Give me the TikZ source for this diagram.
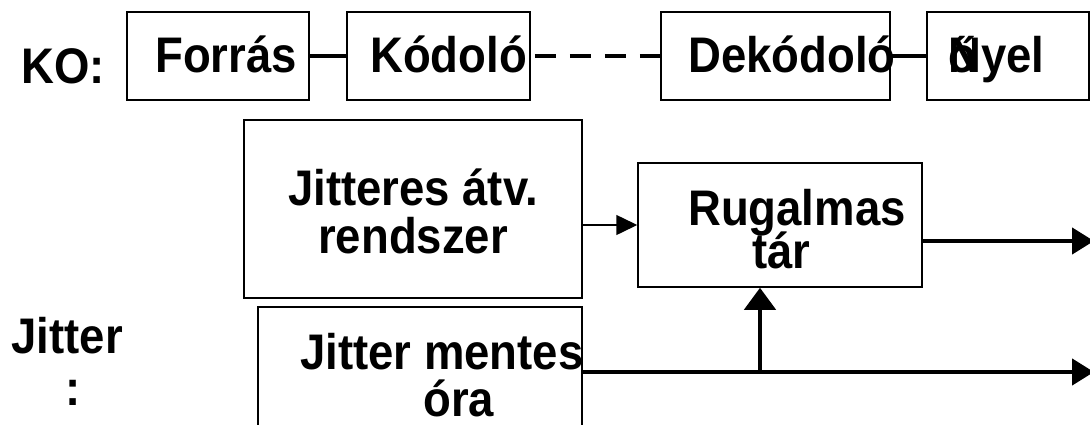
\documentclass[tikz,border=0pt]{standalone}
\usepackage{fontspec}
\newfontfamily\labfont{Liberation Sans}[FakeStretch=0.91]
\usetikzlibrary{arrows.meta}
\begin{document}
\begin{tikzpicture}[x=1pt,y=-1pt,
  txt/.style={font=\labfont\bfseries\fontsize{50}{50}\selectfont, anchor=base west, inner sep=0pt},
  box/.style={draw, line width=1.5pt, inner sep=0pt},
  link/.style={line width=3.5pt},
  feed/.style={line width=1.5pt, -{Triangle[length=21pt,width=20pt]}},
  flow/.style={line width=4.5pt, -{Triangle[length=22pt,width=26pt]}},
  rise/.style={line width=4.5pt, -{Triangle[length=22pt,width=31pt]}}]
\useasboundingbox (0,0) rectangle (1090,424);
\clip (0,0) rectangle (1090,424);

% ---- KO chain ----
\node[box, minimum width=182pt, minimum height=88pt] (forras)   at (218,55.75) {};
\node[box, minimum width=183pt, minimum height=88pt] (kodolo)   at (438.5,55.75) {};
\node[box, minimum width=229pt, minimum height=88pt] (dekodolo) at (775.5,55.75) {};
\node[box, minimum width=162pt, minimum height=88pt] (nyelo)    at (1008,55.75) {};

\node[txt] (ko)         at (21,83)  {KO:};
\node[txt] (forras-t)   at (155,72) {Forrás};
\node[txt] (kodolo-t)   at (370,72) {Kódoló};
\node[txt] (dekodolo-t) at (688,72) {Dekódoló};
\node[txt] (nyelo-t)    at (948,72) {\rlap{ő}Nyel};

\draw[link] (forras.east) -- (kodolo.west);
\draw[link, dash pattern=on 21pt off 14pt, dash phase=31pt] (kodolo.east) -- (dekodolo.west);
\draw[link] (dekodolo.east) -- (nyelo.west);

% ---- jitter buffer ----
\node[box, line width=2pt, minimum width=338pt, minimum height=178pt] (jitteres) at (413,209) {};
\node[box, minimum width=284pt, minimum height=124pt] (rugalmas) at (780,225) {};
\node[box, minimum width=324pt, minimum height=163pt] (mentes)   at (420,388.5) {};

\node[txt] (jit1) at (288,205) {Jitteres átv.};
\node[txt] (jit2) at (318,253) {rendszer};
\node[txt] (rug1) at (688,225) {Rugalmas};
\node[txt] (rug2) at (752,268) {tár};
\node[txt] (jl1)  at (11.5,353) {Jitter};
\node[txt] (jl2)  at (65,405) {:};
\node[txt] (jm1)  at (300,369) {Jitter mentes};
\node[txt] (jm2)  at (423,416) {óra};

\coordinate (out1) at (1094,241);
\coordinate (out2) at (1094,372);
\coordinate (tap)  at (760,372);

\draw[feed] (rugalmas.west -| jitteres.east) -- (rugalmas.west);
\draw[flow] (rugalmas.east |- out1) -- (out1);
\draw[flow] (mentes.east |- out2) -- (out2);
\draw[rise] (tap) -- (tap |- rugalmas.south);
\end{tikzpicture}
\end{document}
